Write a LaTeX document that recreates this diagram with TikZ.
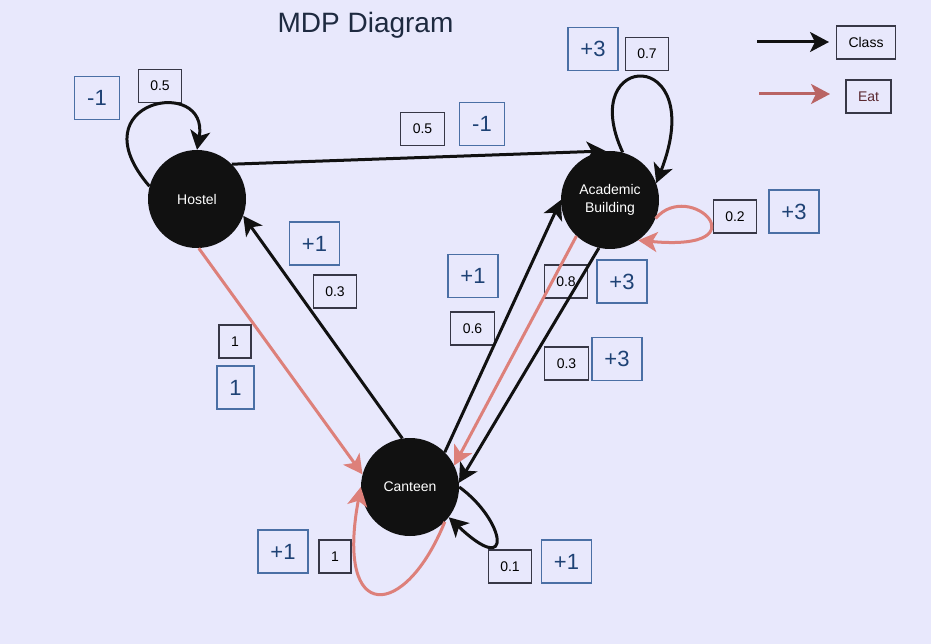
\documentclass[tikz,border=0pt]{standalone}
\usepackage{fontspec}
\setmainfont{Liberation Sans}
\usetikzlibrary{arrows.meta}
\definecolor{bg}{RGB}{232,232,252}
\definecolor{nodefill}{RGB}{17,17,17}
\definecolor{eatcol}{RGB}{221,128,122}
\definecolor{eatleg}{RGB}{185,100,100}
\definecolor{eattext}{RGB}{90,40,48}
\definecolor{rewline}{RGB}{74,111,165}
\definecolor{rewtext}{RGB}{30,66,117}
\definecolor{probline}{RGB}{55,55,70}
\definecolor{titlecol}{RGB}{30,42,64}
\begin{document}
\begin{tikzpicture}[x=1pt,y=-1pt,
  state/.style={circle,fill=nodefill,draw=none,minimum size=98pt,inner sep=0pt,text=white,font=\fontsize{14}{18}\selectfont,align=center},
  prob/.style={draw=probline,line width=1.3pt,font=\fontsize{14}{17}\selectfont,inner xsep=12pt,inner ysep=0pt,minimum height=33pt},
  rew/.style={draw=rewline,line width=1.3pt,text=rewtext,font=\fontsize{22}{26}\selectfont,inner xsep=12.5pt,inner ysep=0pt,minimum height=43pt},
  tip/.style={-{Stealth[length=19pt,width=20pt,inset=5pt]}},
  cls/.style={draw=nodefill,line width=3pt,tip},
  eat/.style={draw=eatcol,line width=3pt,tip},
  eatlegend/.style={draw=eatleg,line width=3pt,tip},
]
\useasboundingbox (0,0) rectangle (931,644);
\fill[bg] (0,0) rectangle (931,644);

\node[font=\fontsize{28}{32}\selectfont,text=titlecol,anchor=base,inner sep=0pt] (title) at (365.5,33) {MDP Diagram};

\node[state] (H) at (197,199) {Hostel};
\node[state] (A) at (610,200) {Academic\\Building};
\node[state] (C) at (410,487) {Canteen};

% labels
\node[rew]  (r1) at (97,98) {-1};
\node[prob] (p1) at (160,86) {0.5};
\node[prob] (p2) at (422.5,129) {0.5};
\node[rew]  (r2) at (482,124) {-1};
\node[rew]  (r3) at (593,49) {+3};
\node[prob] (p3) at (647,54) {0.7};
\node[prob] (p4) at (735,216.5) {0.2};
\node[rew]  (r4) at (794,211.5) {+3};
\node[prob] (p5) at (566,281.5) {0.8};
\node[rew]  (r5) at (622,281.5) {+3};
\node[rew]  (r6) at (473,276) {+1};
\node[prob] (p6) at (472.5,328.5) {0.6};
\node[prob] (p7) at (566.5,363.5) {0.3};
\node[rew]  (r7) at (617,359) {+3};
\node[rew]  (r8) at (314.5,243.5) {+1};
\node[prob] (p8) at (335,291.5) {0.3};
\node[prob] (p9) at (235,341.5) {1};
\node[rew]  (r9) at (235.5,387.5) {1};
\node[rew]  (r10) at (283,551.5) {+1};
\node[prob] (p10) at (335,556.5) {1};
\node[prob] (p11) at (510,566.5) {0.1};
\node[rew]  (r11) at (566.5,561.5) {+1};

% edges
\draw[cls] (H.165) .. controls (75,100) and (210,75) .. (H.90);
\draw[cls] (H.45) -- (A.95);
\draw[cls] (A.75) .. controls (575,50) and (710,45) .. (A.20);
\draw[eat] (A.-22) .. controls (690,178) and (765,252) .. (A.-55);
\draw[cls] (A.-103) -- (C.5);
\draw[eat] (A.-133) -- (C.26);
\draw[cls] (C.45) -- (A.180);
\draw[cls] (C.99) -- (H.-20);
\draw[eat] (H.-88) -- (C.165);
\draw[eat] (C.-45) .. controls (405,620) and (335,625) .. (C.180);
\draw[cls] (C.0) .. controls (505,520) and (515,580) .. (C.-38);

% legend
\node[prob] (lc) at (866,42.5) {Class};
\node[prob,text=eattext] (le) at (868.5,96.5) {Eat};
\coordinate (l1s) at (757,42);
\coordinate (l1e) at (829,42);
\coordinate (l2s) at (759,94);
\coordinate (l2e) at (830,94);
\draw[cls] (l1s) -- (l1e);
\draw[eatlegend] (l2s) -- (l2e);
\end{tikzpicture}
\end{document}
